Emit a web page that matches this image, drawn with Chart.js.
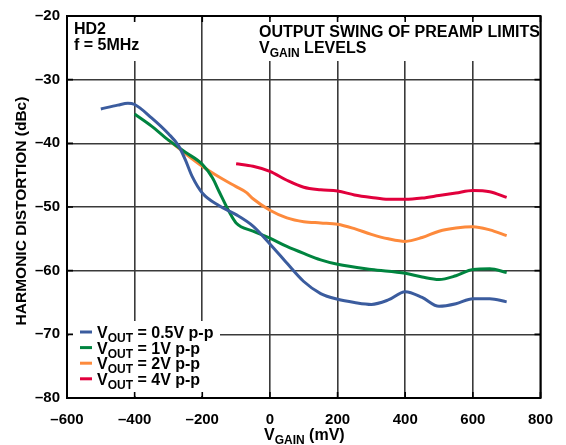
<!DOCTYPE html>
<html>
<head>
<meta charset="utf-8">
<script src="https://cdn.jsdelivr.net/npm/chart.js@4.4.1/dist/chart.umd.min.js"></script>
<style>
  html, body { margin: 0; padding: 0; background: #fff; }
  #wrap { width: 566px; height: 445px; }
</style>
</head>
<body>
<div id="wrap"><canvas id="chart" width="566" height="445"></canvas></div>
<script>
// V_GAIN (mV) and HD2 (dBc), one pair of arrays per curve
const vGain05 = [-500, -450, -420, -400, -350, -300, -270, -250, -230, -200, -150, -100, -50, 0, 50, 100, 150, 200, 250, 300, 350, 400, 450, 500, 550, 600, 650, 700];
const hd2V05  = [-34.6, -34.0, -33.7, -33.9, -36.0, -38.5, -40.4, -42.6, -45.2, -47.8, -49.8, -51.2, -53.0, -55.8, -58.8, -61.7, -63.6, -64.5, -65.0, -65.3, -64.6, -63.3, -64.2, -65.6, -65.2, -64.4, -64.4, -64.9];

const vGain1 = [-400, -350, -300, -250, -200, -170, -150, -120, -100, -50, 0, 50, 100, 150, 200, 300, 400, 450, 500, 550, 600, 650, 700];
const hd2V1  = [-35.4, -37.3, -39.5, -41.4, -43.3, -45.4, -47.6, -50.8, -52.5, -53.8, -54.9, -56.2, -57.3, -58.3, -59.0, -59.8, -60.4, -61.0, -61.4, -60.8, -59.8, -59.7, -60.3];

const vGain2 = [-300, -250, -200, -150, -100, -70, -50, 0, 50, 100, 150, 200, 250, 300, 350, 400, 450, 500, 550, 600, 650, 700];
const hd2V2  = [-39.5, -41.6, -43.6, -45.3, -46.8, -47.7, -48.7, -50.5, -51.7, -52.3, -52.5, -52.7, -53.4, -54.3, -55.0, -55.4, -54.8, -53.8, -53.3, -53.1, -53.6, -54.5];

const vGain4 = [-100, -50, 0, 50, 100, 150, 200, 250, 300, 350, 400, 450, 500, 550, 600, 650, 700];
const hd2V4  = [-43.2, -43.6, -44.4, -45.8, -46.9, -47.3, -47.5, -48.1, -48.5, -48.8, -48.8, -48.6, -48.2, -47.8, -47.4, -47.6, -48.5];

const seriesNames = ['0.5V p-p', '1V p-p', '2V p-p', '4V p-p'];
const seriesColors = ['#3b5c9e', '#00843f', '#fd8a3c', '#e1003c'];

const FONT = 'Liberation Sans, Arial, Helvetica, sans-serif';
const GRID = '#3a3a3a';

function toPoints(xs, ys) {
    return xs.map((x, i) => ({ x: x, y: ys[i] }));
}

// draw a run of text pieces, pieces marked sub are smaller and lowered
function drawParts(ctx, x, y, parts) {
    parts.forEach(p => {
        const size = p.sub ? 12 : 16;
        ctx.font = 'bold ' + size + 'px ' + FONT;
        ctx.fillText(p.t, x, p.sub ? y + 4 : y);
        x += ctx.measureText(p.t).width;
    });
    return x;
}

const overlay = {
    id: 'overlay',
    beforeDatasetsDraw(chart) {
        const ctx = chart.ctx;
        const a = chart.chartArea;
        const xs = chart.scales.x, ys = chart.scales.y;
        ctx.save();
        // white boxes behind the notes hide the grid
        ctx.fillStyle = '#fff';
        ctx.fillRect(a.left + 2, a.top + 2, 76, 43);
        ctx.fillRect(a.left + 188, a.top + 2, a.right - a.left - 190, 43);
        ctx.fillRect(a.left + 2, a.bottom - 77, 151, 75);
        // short inward ticks on all four edges
        ctx.strokeStyle = '#000';
        ctx.lineWidth = 1.6;
        ctx.beginPath();
        xs.ticks.forEach(t => {
            const px = xs.getPixelForValue(t.value);
            ctx.moveTo(px, a.top); ctx.lineTo(px, a.top + 6);
            ctx.moveTo(px, a.bottom); ctx.lineTo(px, a.bottom - 6);
        });
        ys.ticks.forEach(t => {
            const py = ys.getPixelForValue(t.value);
            ctx.moveTo(a.left, py); ctx.lineTo(a.left + 6, py);
            ctx.moveTo(a.right, py); ctx.lineTo(a.right - 6, py);
        });
        ctx.stroke();
        ctx.restore();
    },
    afterDatasetsDraw(chart) {
        const ctx = chart.ctx;
        const a = chart.chartArea;
        ctx.save();
        ctx.strokeStyle = '#000';
        ctx.lineWidth = 2;
        ctx.strokeRect(a.left, a.top, a.right - a.left, a.bottom - a.top);
        ctx.restore();
    },
    afterDraw(chart) {
        const ctx = chart.ctx;
        const a = chart.chartArea;
        ctx.save();
        ctx.fillStyle = '#000';
        ctx.textBaseline = 'alphabetic';
        ctx.textAlign = 'left';

        // notes in the top corners
        drawParts(ctx, a.left + 7, a.top + 18, [{ t: 'HD2' }]);
        drawParts(ctx, a.left + 7, a.top + 34, [{ t: 'f = 5MHz' }]);
        drawParts(ctx, a.left + 192, a.top + 21, [{ t: 'OUTPUT SWING OF PREAMP LIMITS' }]);
        drawParts(ctx, a.left + 192, a.top + 37, [{ t: 'V' }, { t: 'GAIN', sub: true }, { t: ' LEVELS' }]);

        // legend
        chart.data.datasets.forEach((ds, i) => {
            const yb = a.bottom - 60 + i * 15.6;
            ctx.strokeStyle = ds.borderColor;
            ctx.lineWidth = 3;
            ctx.beginPath();
            ctx.moveTo(a.left + 13, yb - 6);
            ctx.lineTo(a.left + 25, yb - 6);
            ctx.stroke();
            ctx.fillStyle = '#000';
            drawParts(ctx, a.left + 30, yb, [{ t: 'V' }, { t: 'OUT', sub: true }, { t: ' = ' + seriesNames[i] }]);
        });

        // x axis title
        drawParts(ctx, 264, 440, [{ t: 'V' }, { t: 'GAIN', sub: true }, { t: ' (mV)' }]);

        // y axis title
        ctx.translate(26, (a.top + a.bottom) / 2 + 4);
        ctx.rotate(-Math.PI / 2);
        ctx.textAlign = 'center';
        ctx.font = 'bold 15.5px ' + FONT;
        ctx.fillText('HARMONIC DISTORTION (dBc)', 0, 0);
        ctx.restore();
    }
};

const datasets = [
    toPoints(vGain05, hd2V05),
    toPoints(vGain1, hd2V1),
    toPoints(vGain2, hd2V2),
    toPoints(vGain4, hd2V4)
].map((pts, i) => ({
    label: seriesNames[i],
    data: pts,
    borderColor: seriesColors[i],
    borderWidth: 3,
    pointRadius: 0,
    fill: false,
    cubicInterpolationMode: 'monotone'
}));

const tickFont = { family: FONT, size: 15, weight: 'bold' };
const dash = v => (v < 0 ? '\u2013' + Math.abs(v) : String(v));

new Chart(document.getElementById('chart'), {
    type: 'line',
    data: { datasets: datasets },
    options: {
        responsive: false,
        animation: false,
        devicePixelRatio: 1,
        layout: { padding: { left: 0, right: 18, top: 16, bottom: 0 } },
        plugins: {
            legend: { display: false },
            tooltip: { enabled: false }
        },
        scales: {
            x: {
                type: 'linear',
                min: -600,
                max: 800,
                ticks: { stepSize: 200, font: tickFont, color: '#000', padding: 13, callback: dash, maxRotation: 0 },
                grid: { color: GRID, lineWidth: 1.6, drawTicks: false },
                border: { display: false },
                afterFit(scale) { scale.height = 47; }
            },
            y: {
                min: -80,
                max: -20,
                ticks: { stepSize: 10, font: tickFont, color: '#000', padding: 7, callback: dash },
                grid: { color: GRID, lineWidth: 1.6, drawTicks: false },
                border: { display: false },
                afterFit(scale) { scale.width = 67; }
            }
        }
    },
    plugins: [overlay]
});
</script>
</body>
</html>
